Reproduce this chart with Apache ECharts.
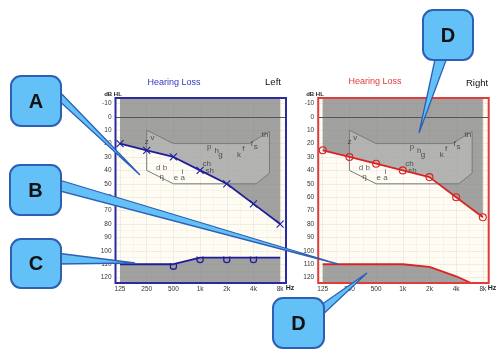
<!DOCTYPE html>
<html><head><meta charset="utf-8">
<script src="https://cdn.jsdelivr.net/npm/echarts@6/dist/echarts.min.js"></script>
<style>html,body{margin:0;padding:0;background:#fff}#c{width:498px;height:358px}</style>
</head><body><div id="c"></div>
<script>
// ---- data ----
const freqLabels = ['125','250','500','1k','2k','4k','8k'];
const octaves = [0,1,2,3,4,5,6];
const leftThreshold = [20,25,30,40,50,65,80];
const rightThreshold = [25,30,35,40,45,60,75];
const leftLimit = [110,110,110,105,105,105,105];
const leftLimitMarked = [false,false,true,true,true,true,false];
const rightLimit = [110,110,110,110,112,119,128];
const bananaOct = [1,2,4.85,5.6,5.6,5.1,2,1];
const bananaDb = [10,20,20,11,42,50,50,40];
const phonemes = ['z','v','p','h','g','k','f','f','s','th','ch','sh','d b','ŋ','e','a','i'];
const phonemeOct = [1.0,1.22,3.34,3.62,3.76,4.46,4.62,4.94,5.09,5.44,3.25,3.36,1.56,1.56,2.1,2.35,2.35];
const phonemeDb = [18.3,15.8,22.5,25.5,28.5,28.7,24.2,20,22.5,13.8,35,40.6,38,44.8,45.3,45.3,41];
const callouts = [
  {letter:'A', box:[11,76,50,50], base:[[56,88],[56,98]], tip:[140,175]},
  {letter:'B', box:[10,165,51,50], base:[[56,179],[56,190]], tip:[338,264]},
  {letter:'C', box:[11,239,50,49], base:[[56,253],[56,264]], tip:[135,263]},
  {letter:'D', box:[423,10,50,50], base:[[436,55],[448,55]], tip:[419,133]},
  {letter:'D', box:[273,298,51,50], base:[[318,307],[318,319]], tip:[367,273]}
];

// ---- layout / style ----
const BLUE = '#2a2aa5', BLUE_LINE = '#1e1e9c', RED = '#e03c3c', RED_LINE = '#d92424';
const GRAY = '#8a8a8a';
const grids = [
  {left:115.5, top:98, width:170.5, height:185},
  {left:318.2, top:98, width:170.5, height:185}
];
const FONT = 'Liberation Sans, Arial, sans-serif';

function xAxisFor(i){
  return {gridIndex:i, type:'value', min:-0.17, max:6.22, splitNumber:6,
    axisLine:{show:false}, axisTick:{show:false},
    axisLabel:{fontSize:6.5, color:'#333', margin:3, fontFamily:FONT, showMinLabel:false, showMaxLabel:false,
      formatter:v => (Number.isInteger(v) && v>=0 && v<=6) ? freqLabels[v] : ''},
    splitLine:{show:true, lineStyle:{color:'#e8e4d9', width:0.7, type:'solid'}},
    minorTick:{show:false, splitNumber:2},
    minorSplitLine:{show:true, lineStyle:{color:'#f1eee6', width:0.6, type:'solid'}}
  };
}
function yAxisFor(i){
  return {gridIndex:i, type:'value', inverse:true, min:-14, max:124, splitNumber:14,
    axisLine:{show:false}, axisTick:{show:false},
    axisLabel:{fontSize:6.5, color:'#333', margin:4, fontFamily:FONT,
      formatter:v => (v%10===0) ? String(v) : ''},
    splitLine:{show:true, lineStyle:{color:'#e8e4d9', width:0.7, type:'solid'}},
    minorTick:{show:false, splitNumber:2},
    minorSplitLine:{show:true, lineStyle:{color:'#f1eee6', width:0.6, type:'solid'}}
  };
}
const pairs = arr => octaves.map((o,k)=>[o, arr[k]]);

function chartSeries(i, threshold, limit, limitMarked, lineColor, thrSymbol, thrSymbolSize){
  return [
    { // gray region above threshold
      type:'line', xAxisIndex:i, yAxisIndex:i, z:1, silent:true, symbol:'none',
      data:pairs(threshold), lineStyle:{width:0}, itemStyle:{color:GRAY},
      areaStyle:{color:GRAY, opacity:0.8, origin:'start'},
      markLine:{silent:true, symbol:['none','none'], label:{show:false},
        lineStyle:{color:'#555', width:1, type:'solid'}, data:[{yAxis:0}]}
    },
    { // speech banana
      type:'custom', xAxisIndex:i, yAxisIndex:i, z:2, silent:true, clip:true,
      data:[[0,0]],
      renderItem:(params, api)=>{
        const pts = bananaOct.map((o,k)=>api.coord([o, bananaDb[k]]));
        return {type:'polygon', shape:{points:pts},
          style:{fill:'rgba(255,255,255,0.2)', stroke:'#7a7a7a', lineWidth:1}};
      }
    },
    { // phonemes
      type:'scatter', xAxisIndex:i, yAxisIndex:i, z:3, silent:true, symbolSize:1,
      itemStyle:{color:'rgba(0,0,0,0)'},
      data:phonemes.map((p,k)=>({name:p, value:[phonemeOct[k], phonemeDb[k]]})),
      label:{show:true, position:'inside', formatter:'{b}', fontSize:8, color:'#333', fontFamily:FONT}
    },
    { // limit line with gray below
      type:'line', xAxisIndex:i, yAxisIndex:i, z:4, silent:true, clip:true,
      data:pairs(limit).map((p,k)=>({value:p,
        symbol: limitMarked && limitMarked[k] ? 'path://M0,0L0,5Q0,8 4,8Q8,8 8,5L8,0' : 'none'})),
      symbolSize:[6,6], symbolOffset:[0,2],
      lineStyle:{color:lineColor, width:1.8, type:'solid'},
      itemStyle:{color:'rgba(0,0,0,0)', borderColor:lineColor, borderWidth:1.3},
      areaStyle:{color:GRAY, opacity:0.8, origin:'end'}
    },
    { // threshold line
      type:'line', xAxisIndex:i, yAxisIndex:i, z:5, silent:true,
      data:pairs(threshold), symbol:thrSymbol, symbolSize:thrSymbolSize, showAllSymbol:true,
      lineStyle:{color:lineColor, width:1.8, type:'solid'},
      itemStyle:{color:'rgba(0,0,0,0)', borderColor:lineColor, borderWidth:1.1}
    }
  ];
}

const graphic = [];
// frames
grids.forEach((g,i)=>{
  graphic.push({type:'rect', z:50, silent:true,
    shape:{x:g.left, y:g.top, width:g.width, height:g.height},
    style:{fill:'none', stroke: i===0?BLUE:RED, lineWidth:2}});
});
function txt(text, x, y, color, font, align){
  graphic.push({type:'text', z:60, silent:true, x:x, y:y,
    style:{text:text, fill:color, font:font, align:align||'center', verticalAlign:'middle'}});
}
txt('Hearing Loss', 174, 83, '#3434c4', '9px '+FONT);
txt('Left', 273, 82, '#111', '9.5px '+FONT);
txt('Hearing Loss', 375, 82, '#e03a3a', '9px '+FONT);
txt('Right', 477, 83, '#111', '9.5px '+FONT);
txt('dB HL', 113, 94.5, '#222', 'bold 6px '+FONT);
txt('dB HL', 315, 94.5, '#222', 'bold 6px '+FONT);
txt('Hz', 290, 288.5, '#222', 'bold 7px '+FONT);
txt('Hz', 492, 288.5, '#222', 'bold 7px '+FONT);

// callouts
callouts.forEach(c=>{
  graphic.push({type:'polygon', z:70, silent:true,
    shape:{points:[c.base[0], c.tip, c.base[1]]},
    style:{fill:'#63c1f7', stroke:'#2d5fb5', lineWidth:1.3}});
  graphic.push({type:'rect', z:71, silent:true,
    shape:{x:c.box[0], y:c.box[1], width:c.box[2], height:c.box[3], r:10},
    style:{fill:'#63c1f7', stroke:'#2d5fb5', lineWidth:2}});
  graphic.push({type:'text', z:72, silent:true,
    x:c.box[0]+c.box[2]/2, y:c.box[1]+c.box[3]/2+1,
    style:{text:c.letter, fill:'#111', font:'bold 20px '+FONT, align:'center', verticalAlign:'middle'}});
});

const chart = echarts.init(document.getElementById('c'), null, {renderer:'canvas'});
chart.setOption({
  animation:false,
  backgroundColor:'#ffffff',
  grid: grids.map(g=>Object.assign({show:true, backgroundColor:'#fffdf3', borderWidth:0}, g)),
  xAxis:[xAxisFor(0), xAxisFor(1)],
  yAxis:[yAxisFor(0), yAxisFor(1)],
  series:[].concat(
    chartSeries(0, leftThreshold, leftLimit, leftLimitMarked, BLUE_LINE, 'path://M0,0L10,10M10,0L0,10', 7),
    chartSeries(1, rightThreshold, rightLimit, null, RED_LINE, 'circle', 7)
  ),
  graphic: graphic
});
</script>
</body></html>
